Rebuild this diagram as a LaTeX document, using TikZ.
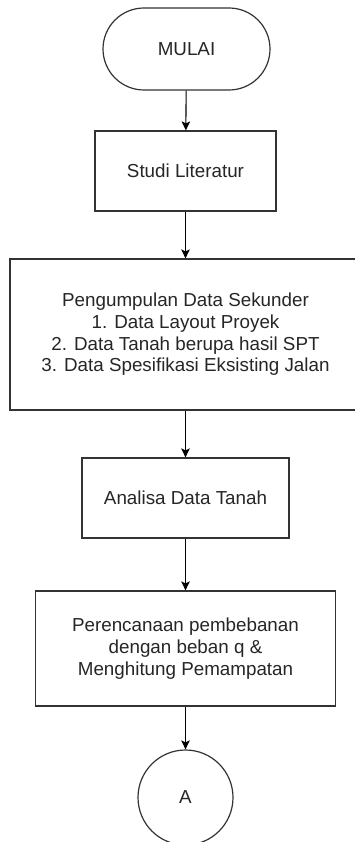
\documentclass[tikz,border=0pt]{standalone}
\usepackage{fontspec}
\setmainfont{Liberation Sans}
\usetikzlibrary{arrows.meta}
\tikzset{
  base/.style={draw=black!80, line width=1.2pt, fill=white, inner sep=0pt, align=center,
    font=\fontsize{18.8}{21.7}\selectfont, text=black!85},
  procbox/.style={base, rectangle},
  terminal/.style={base, rectangle, rounded corners=41pt},
  connector/.style={base, circle},
  flow/.style={draw=black, line width=1.1pt, -{Stealth[length=9pt,width=8.5pt,inset=2pt]}}
}
\begin{document}
\begin{tikzpicture}[x=1pt,y=-1pt]
\useasboundingbox (0,0) rectangle (355,842);
\clip (0,0) rectangle (355,842);
\fill[white] (0,0) rectangle (355,842);
\node[terminal, minimum width=167pt, minimum height=82pt] (mulai) at (186.5,49) {MULAI};
\node[procbox, minimum width=181pt, minimum height=80pt] (studi) at (185.5,171) {Studi Literatur};
\node[procbox, minimum width=351pt, minimum height=151pt] (data) at (185.5,334.5)
  {Pengumpulan Data Sekunder\\1. Data Layout Proyek\\2. Data Tanah berupa hasil SPT\\3. Data Spesifikasi Eksisting Jalan};
\node[procbox, minimum width=207pt, minimum height=80pt] (analisa) at (185.5,498) {Analisa Data Tanah};
\node[procbox, minimum width=300pt, minimum height=115pt] (renc) at (185.5,648.5)
  {Perencanaan pembebanan\\dengan beban q \&\\Menghitung Pemampatan};
\node[connector, minimum size=95pt] (a) at (185.5,797.5) {A};
\draw[flow] (mulai) -- (studi);
\draw[flow] (studi) -- (data);
\draw[flow] (data) -- (analisa);
\draw[flow] (analisa) -- (renc);
\draw[flow] (renc) -- (a);
\end{tikzpicture}
\end{document}
